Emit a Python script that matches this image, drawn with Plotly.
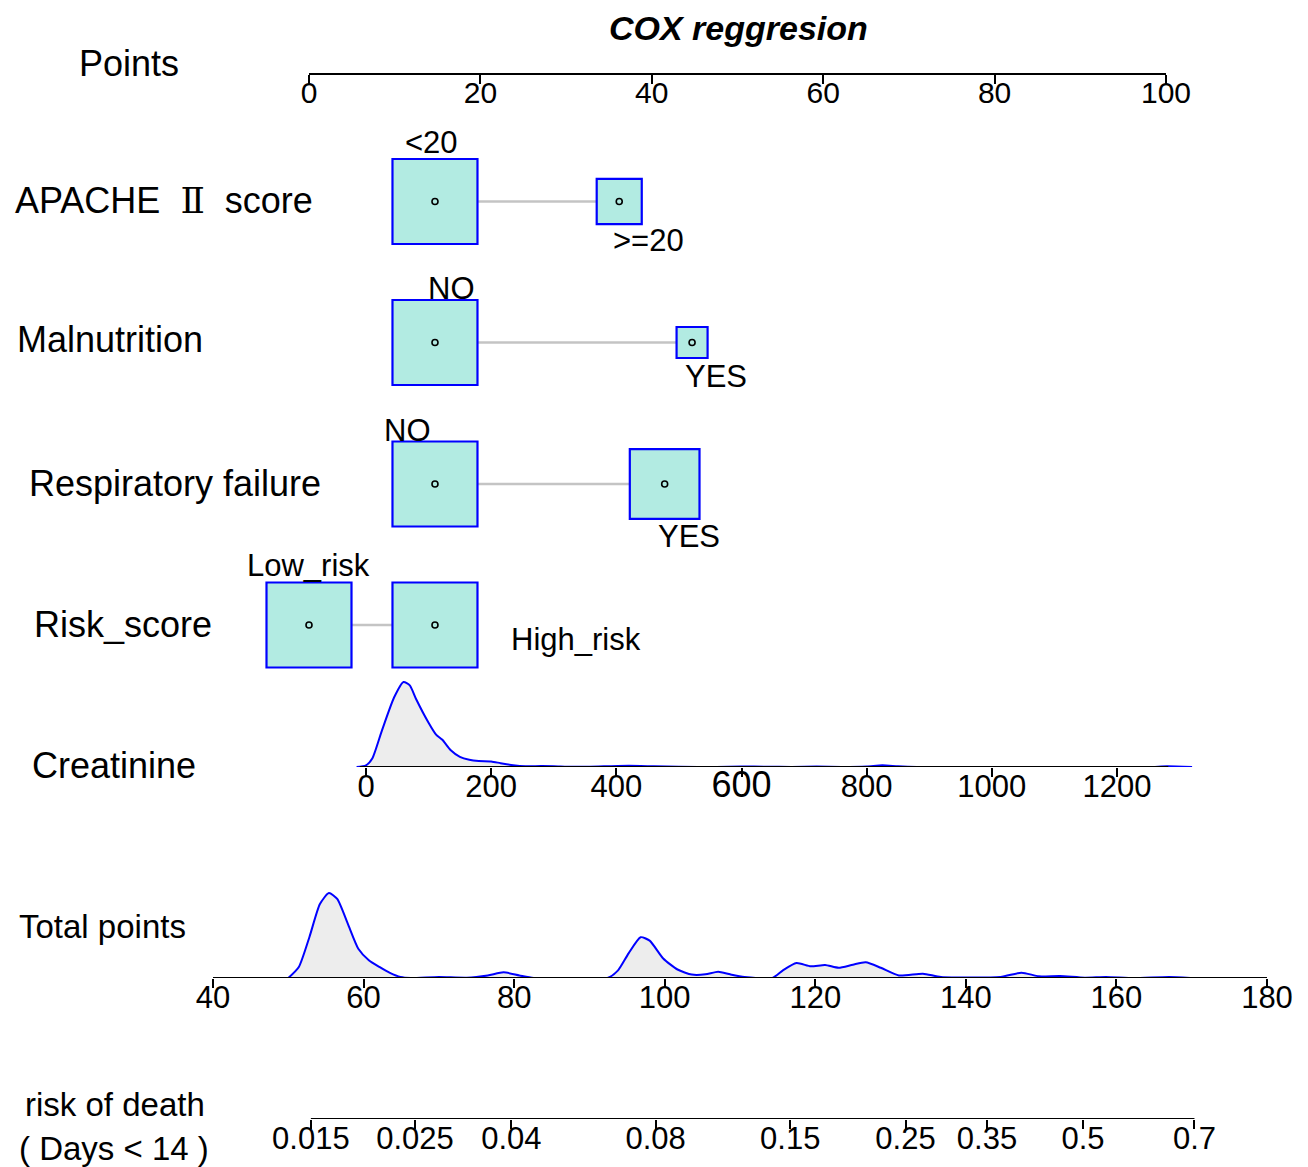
import numpy as np
import plotly.graph_objects as go

W, H = 1308, 1167          # browser window
OFF = 8                    # default page margin of the html body
FW, FH = W - OFF, H - OFF  # figure size

# ---------------- data ----------------
title = "COX reggresion"
points_ticks = [0, 20, 40, 60, 80, 100]

variables = ["APACHE Ⅱ score", "Malnutrition", "Respiratory failure", "Risk_score"]
levels = {
    "APACHE Ⅱ score": ["<20", ">=20"],
    "Malnutrition": ["NO", "YES"],
    "Respiratory failure": ["NO", "YES"],
    "Risk_score": ["Low_risk", "High_risk"],
}
level_points = {
    "APACHE Ⅱ score": [14.7, 36.2],
    "Malnutrition": [14.7, 44.7],
    "Respiratory failure": [14.7, 41.5],
    "Risk_score": [0.0, 14.7],
}
level_freq = {  # relative group size (box size)
    "APACHE Ⅱ score": [1.0, 0.53],
    "Malnutrition": [1.0, 0.365],
    "Respiratory failure": [1.0, 0.82],
    "Risk_score": [1.0, 1.0],
}

creat_ticks = [0, 200, 400, 600, 800, 1000, 1200]
creat_x = [-15, 0, 10, 25, 45, 60, 70, 80, 100, 112, 122, 135, 150, 165, 180, 200, 215,
           235, 255, 280, 300, 330, 380, 420, 460, 500, 560, 600, 640, 680, 720, 760,
           800, 825, 850, 880, 1250, 1280, 1320]
creat_d = [0, 0.02, 0.10, 0.42, 0.82, 1.0, 0.96, 0.80, 0.52, 0.38, 0.32, 0.20, 0.12, 0.085,
           0.07, 0.065, 0.045, 0.02, 0.008, 0.012, 0.010, 0.002, 0.008, 0.014, 0.008,
           0.002, 0.001, 0.005, 0.004, 0.001, 0.005, 0.001, 0.006, 0.02, 0.008, 0.0,
           0.0, 0.008, 0.0]

total_ticks = [40, 60, 80, 100, 120, 140, 160, 180]
tp_x = [50.0, 51.4, 52.8, 54.2, 55.4, 56.5, 57.9, 59.3, 60.7, 62.1, 63.5, 64.9, 66.3,
        70.0, 73.7, 76.5, 78.6, 80.7, 82.6, 92.4, 93.8, 95.2, 96.8, 98.0, 99.8, 101.7,
        103.6, 105.4, 107.1, 108.7, 110.6, 114.3, 115.7, 117.5, 119.4, 121.3, 123.1,
        125.0, 126.7, 128.7, 131.1, 134.3, 136.7, 144.6, 147.4, 149.7, 152.5, 155.8,
        158.6, 162.3, 167.0, 169.8]
tp_d = [0.0, 0.13, 0.48, 0.87, 1.0, 0.93, 0.64, 0.345, 0.21, 0.13, 0.06, 0.012, 0.0,
        0.012, 0.004, 0.03, 0.067, 0.03, 0.0, 0.0, 0.09, 0.29, 0.48, 0.44, 0.23, 0.10,
        0.04, 0.043, 0.075, 0.043, 0.012, 0.0, 0.09, 0.176, 0.137, 0.153, 0.12, 0.157,
        0.184, 0.12, 0.03, 0.05, 0.012, 0.012, 0.063, 0.02, 0.024, 0.004, 0.012, 0.0,
        0.012, 0.0]

risk_ticks = [0.015, 0.025, 0.04, 0.08, 0.15, 0.25, 0.35, 0.5, 0.7]
risk_labels = ["0.015", "0.025", "0.04", "0.08", "0.15", "0.25", "0.35", "0.5", "0.7"]
cox_beta = 0.0373      # linear predictor per total point
cox_const = -6.169     # log(-log(S0)) offset


def risk_to_total(r):
    r = np.asarray(r, dtype=float)
    return (np.log(-np.log(1 - r)) - cox_const) / cox_beta


# ---------------- layout helpers ----------------
FONT = "Liberation Sans, Arial, sans-serif"
BLUE = "#0000ff"
FILL = "#b2ebe2"


def fy(p):  # page pixel y -> paper fraction
    return 1 - (p - OFF) / FH


def fx(p):  # page pixel x -> paper fraction
    return (p - OFF) / FW


# page-pixel anchors of the scales
PTS_PX = (309, 1166)        # points 0 and 100
CR_PX = (366, 1117)         # creatinine 0 and 1200
TP_PX = (213, 1267)         # total points 40 and 180


def lin_range(v0, v1, p0, p1):
    k = (p1 - p0) / (v1 - v0)
    return [v0 - (p0 - OFF) / k, v0 + (W - p0) / k]


row_y = {"APACHE Ⅱ score": 201.5, "Malnutrition": 342.5,
         "Respiratory failure": 484, "Risk_score": 625}
BOX = 85

fig = go.Figure()

# points axis line
fig.add_trace(go.Scatter(x=[points_ticks[0], points_ticks[-1]], y=[74, 74], mode="lines",
                         line=dict(color="black", width=2), xaxis="x", yaxis="y",
                         hoverinfo="skip"))

for v in variables:
    yv = row_y[v]
    pts = level_points[v]
    fig.add_trace(go.Scatter(x=pts, y=[yv] * len(pts), mode="lines",
                             line=dict(color="#c4c4c4", width=2.5), xaxis="x", yaxis="y",
                             hoverinfo="skip"))
    fig.add_trace(go.Scatter(x=pts, y=[yv] * len(pts), mode="markers", opacity=1,
                             marker=dict(symbol="square", size=[BOX * f for f in level_freq[v]],
                                         color=FILL, opacity=1,
                                         line=dict(color=BLUE, width=2.2)),
                             cliponaxis=False, xaxis="x", yaxis="y", hoverinfo="skip"))
    fig.add_trace(go.Scatter(x=pts, y=[yv] * len(pts), mode="markers", opacity=1,
                             marker=dict(symbol="circle-open", size=6, color="black",
                                         opacity=1, line=dict(width=1.6)),
                             cliponaxis=False, xaxis="x", yaxis="y", hoverinfo="skip"))

# creatinine density + axis line
fig.add_trace(go.Scatter(x=creat_x, y=creat_d, mode="lines", fill="tozeroy",
                         fillcolor="#ededed", line=dict(color=BLUE, width=2, shape="spline",
                                                        smoothing=0.6),
                         xaxis="x2", yaxis="y2", hoverinfo="skip"))
fig.add_trace(go.Scatter(x=[-10, 1282], y=[0, 0], mode="lines",
                         line=dict(color="black", width=2), xaxis="x2", yaxis="y2",
                         hoverinfo="skip"))

# total points density + axis line
fig.add_trace(go.Scatter(x=tp_x, y=tp_d, mode="lines", fill="tozeroy",
                         fillcolor="#ededed", line=dict(color=BLUE, width=2, shape="spline",
                                                        smoothing=0.6),
                         xaxis="x3", yaxis="y3", hoverinfo="skip"))
fig.add_trace(go.Scatter(x=[total_ticks[0], total_ticks[-1]], y=[0, 0], mode="lines",
                         line=dict(color="black", width=2), xaxis="x3", yaxis="y3",
                         hoverinfo="skip"))

# risk axis line
risk_pos = risk_to_total(risk_ticks)
fig.add_trace(go.Scatter(x=[risk_pos[0], risk_pos[-1]], y=[0, 0], mode="lines",
                         line=dict(color="black", width=2), xaxis="x4", yaxis="y4",
                         hoverinfo="skip"))

tick_common = dict(showgrid=False, zeroline=False, showline=False, ticks="outside",
                   ticklen=9, tickwidth=1.5, tickcolor="black", fixedrange=True,
                   ticklabelstandoff=-17)

fig.update_layout(
    width=FW, height=FH, margin=dict(l=0, r=0, t=0, b=0),
    paper_bgcolor="white", plot_bgcolor="rgba(0,0,0,0)", showlegend=False,
    font=dict(family=FONT, color="black"),
    xaxis=dict(range=lin_range(0, 100, *PTS_PX), **tick_common, tickvals=points_ticks,
               tickfont=dict(size=30, family=FONT), anchor="free", position=fy(74),
               domain=[0, 1]),
    yaxis=dict(range=[H, OFF], domain=[0, 1], visible=False, fixedrange=True),
    xaxis2=dict(range=lin_range(0, 1200, *CR_PX), **tick_common, tickvals=creat_ticks,
                ticktext=[("<span style='font-size:36px'>600</span>" if t == 600 else str(t))
                          for t in creat_ticks],
                tickfont=dict(size=31, family=FONT), anchor="y2", domain=[0, 1]),
    yaxis2=dict(range=[0, 100 / 85], domain=[fy(767), fy(667)], visible=False,
                anchor="x2", fixedrange=True),
    xaxis3=dict(range=lin_range(40, 180, *TP_PX), **tick_common, tickvals=total_ticks,
                tickfont=dict(size=31, family=FONT), anchor="y3", domain=[0, 1]),
    yaxis3=dict(range=[0, 100 / 85], domain=[fy(978), fy(878)], visible=False,
                anchor="x3", fixedrange=True),
    xaxis4=dict(range=lin_range(40, 180, *TP_PX), **tick_common, tickvals=list(risk_pos),
                ticktext=risk_labels, tickfont=dict(size=31, family=FONT),
                anchor="y4", domain=[0, 1]),
    yaxis4=dict(range=[0, 1], domain=[fy(1119), fy(1109)], visible=False,
                anchor="x4", fixedrange=True),
)

annots = []


def add_text(txt, x, y, size, anchor="left", family=FONT):
    annots.append(dict(text=txt, x=fx(x), y=fy(y), xref="paper", yref="paper",
                       xanchor=anchor, yanchor="middle", showarrow=False,
                       font=dict(size=size, family=family, color="black")))


add_text("<b><i>" + title + "</i></b>", 738, 28, 34, "center")
add_text("Points", 129, 63, 36, "center")
add_text("APACHE\u00a0 <span style='font-family:DejaVu Serif'>Ⅱ</span>\u00a0 score", 13, 201, 36)
add_text("Malnutrition", 15, 340, 36)
add_text("Respiratory failure", 27, 483, 36)
add_text("Risk_score", 32, 624, 36)
add_text("Creatinine", 30, 765, 36)
add_text("Total points", 17, 926, 33)
add_text("risk of death", 23, 1104, 33)
add_text("( Days < 14 )", 17, 1148, 33)

# category labels
lab_pos = {
    "APACHE Ⅱ score": [(432, 143), (648, 241)],
    "Malnutrition": [(451, 289), (716, 376)],
    "Respiratory failure": [(407, 430), (689, 536)],
    "Risk_score": [(308, 565), (576, 639)],
}
for v in variables:
    for lab, (px, py) in zip(levels[v], lab_pos[v]):
        add_text(lab, px, py, 31, "center")

fig.update_layout(annotations=annots)
fig.write_html("out.html")
